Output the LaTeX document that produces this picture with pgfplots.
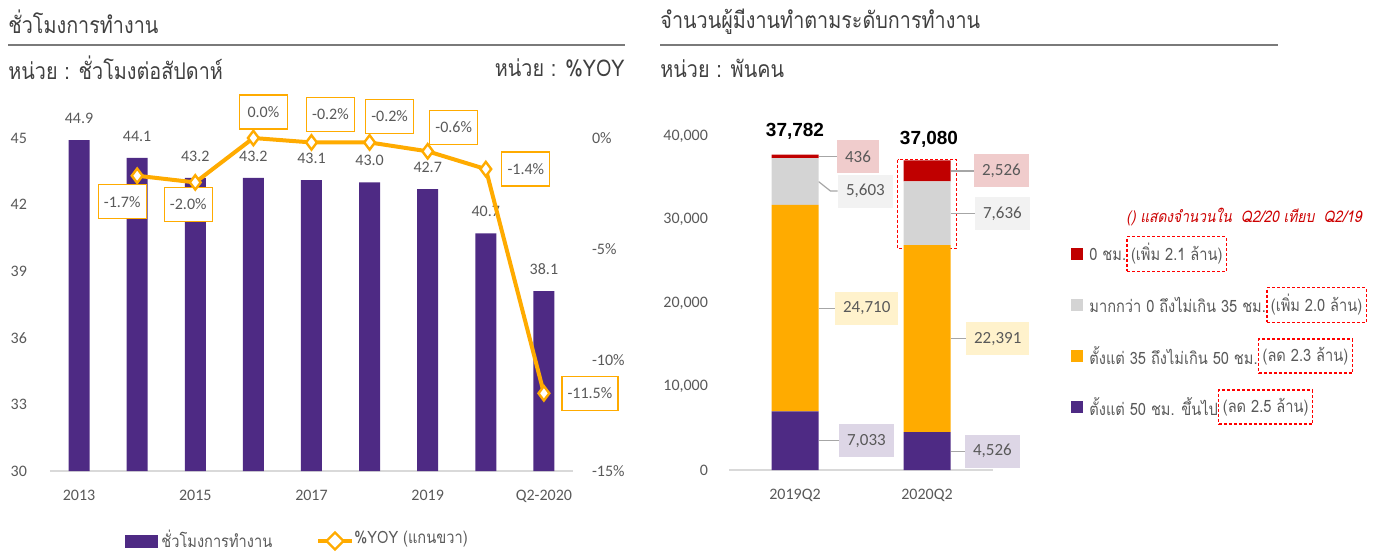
\documentclass[border=0pt]{standalone}
\usepackage{fontspec}
\setmainfont{Carlito}
\newfontfamily\thai{Loma}[Script=Thai,FakeStretch=0.86]
\newfontfamily\thaiit{Loma}[Script=Thai,FakeStretch=0.86,FakeSlant=0.2]
\newfontfamily\arial{Liberation Sans}
\usepackage{pgfplots}
\pgfplotsset{compat=1.18}
\usetikzlibrary{shapes.geometric}

\definecolor{Purp}{HTML}{4E2A84}
\definecolor{Orng}{HTML}{FFAB00}
\definecolor{Redd}{HTML}{C00000}
\definecolor{Gry}{HTML}{D4D4D4}
\definecolor{RedL}{HTML}{F0CCCC}
\definecolor{GryL}{HTML}{F2F2F2}
\definecolor{OrnL}{HTML}{FFF2CC}
\definecolor{PurL}{HTML}{DDD6E6}
\definecolor{TxtGray}{HTML}{595959}
\definecolor{TitleGray}{HTML}{404040}
\definecolor{AxGray}{HTML}{D9D9D9}
\definecolor{LeadGray}{HTML}{A6A6A6}
\definecolor{RedT}{HTML}{CC0000}

\tikzset{
  yoy/.style={draw=Orng, fill=white, line width=0.6pt, font=\fontsize{8}{9}\selectfont,
    text=TxtGray, minimum width=24pt, minimum height=17pt, inner sep=2pt},
  lbl/.style={anchor=west, font=\fontsize{8.5}{10}\selectfont, text=TxtGray, inner xsep=4pt,
    minimum height=16.5pt},
  lead/.style={LeadGray, line width=0.6pt},
  hd/.style={inner sep=0pt, text=TitleGray, font=\thai\fontsize{11.5}{13}\selectfont},
  lg/.style={inner sep=0pt, anchor=west, text=TxtGray, font=\thai\fontsize{8.5}{10}\selectfont},
  db/.style={anchor=west, draw=red, line width=0.6pt, dash pattern=on 1.5pt off 1pt,
    text=TxtGray, font=\thai\fontsize{8.5}{10}\selectfont, minimum height=17pt, inner xsep=2pt},
}

\begin{document}
\begin{tikzpicture}
\useasboundingbox (0,0) rectangle (687.5pt,276.5pt);

% ---- left: hours per week (bars)
\begin{axis}[
  at={(25pt,41pt)}, anchor=south west, scale only axis,
  width=261.5pt, height=166.5pt,
  xmin=-0.5, xmax=8.5, ymin=30, ymax=45,
  ybar, bar width=10.5pt,
  axis x line*=bottom, axis y line*=left,
  x axis line style={draw=AxGray, line width=1pt},
  y axis line style={draw=none},
  major tick length=0pt,
  xtick={0,2,4,6,8}, xticklabels={2013,2015,2017,2019,Q2-2020},
  ytick={30,33,...,45},
  tick label style={font=\fontsize{8}{9}\selectfont, text=TxtGray},
  yticklabel style={xshift=-8pt},
  xticklabel style={yshift=-6pt},
  /pgf/number format/assume math mode=true,
  nodes near coords={\pgfmathprintnumber[fixed,fixed zerofill,precision=1,assume math mode=true]{\pgfplotspointmeta}},
  every node near coord/.append style={font=\fontsize{8}{9}\selectfont, text=TxtGray, anchor=center, yshift=11pt},
]
\addplot[fill=Purp, draw=none] coordinates {
  (0,44.9) (1,44.1) (2,43.2) (3,43.2) (4,43.1) (5,43.0) (6,42.7) (7,40.7) (8,38.1)};
\end{axis}

% ---- left: %YOY (right axis)
\begin{axis}[
  at={(25pt,41pt)}, anchor=south west, scale only axis,
  width=261.5pt, height=166.5pt,
  xmin=-0.5, xmax=8.5, ymin=-15, ymax=0,
  axis x line=none, axis y line*=right,
  y axis line style={draw=none},
  major tick length=0pt,
  ytick={-15,-10,-5,0}, yticklabels={-15\%,-10\%,-5\%,0\%},
  tick label style={font=\fontsize{8}{9}\selectfont, text=TxtGray},
  yticklabel style={xshift=6pt},
  clip=false,
]
\addplot[Orng, line width=2pt, mark=diamond*, mark size=3.6pt,
  mark options={fill=white, draw=Orng, line width=1.2pt}] coordinates {
  (1,-1.7) (2,-2.0) (3,0.0) (4,-0.2) (5,-0.2) (6,-0.6) (7,-1.4) (8,-11.5)};
\node[yoy, xshift=-7.5pt, yshift=-13pt] at (axis cs:1,-1.7) {-1.7\%};
\node[yoy, xshift=-3.5pt, yshift=-11pt] at (axis cs:2,-2.0) {-2.0\%};
\node[yoy, xshift=5pt, yshift=13pt] at (axis cs:3,0.0) {0.0\%};
\node[yoy, xshift=9.5pt, yshift=14pt] at (axis cs:4,-0.2) {-0.2\%};
\node[yoy, xshift=10pt, yshift=13pt] at (axis cs:5,-0.2) {-0.2\%};
\node[yoy, xshift=13pt, yshift=12pt] at (axis cs:6,-0.6) {-0.6\%};
\node[yoy, xshift=20pt] at (axis cs:7,-1.4) {-1.4\%};
\node[yoy, xshift=23pt, minimum width=28pt] at (axis cs:8,-11.5) {-11.5\%};
\end{axis}

% ---- right: employed persons by hours worked
\begin{axis}[
  at={(364.5pt,41.5pt)}, anchor=south west, scale only axis,
  width=132pt, height=167pt,
  xmin=-0.5, xmax=1.5, ymin=0, ymax=40000,
  ybar stacked, bar width=23.5pt,
  axis x line*=bottom, axis y line*=left,
  x axis line style={draw=AxGray, line width=1pt},
  y axis line style={draw=none},
  major tick length=0pt,
  xtick={0,1}, xticklabels={2019Q2,2020Q2},
  ytick={0,10000,20000,30000,40000}, scaled y ticks=false,
  tick label style={font=\fontsize{8}{9}\selectfont, text=TxtGray},
  yticklabel style={/pgf/number format/1000 sep={,}, xshift=-7pt},
  xticklabel style={yshift=-6pt},
  /pgf/number format/assume math mode=true,
  clip=false,
]
\addplot[fill=Purp, draw=none] coordinates {(0,7033) (1,4526)};
\addplot[fill=Orng, draw=none] coordinates {(0,24710) (1,22391)};
\addplot[fill=Gry, draw=none] coordinates {(0,5603) (1,7636)};
\addplot[fill=Redd, draw=none] coordinates {(0,436) (1,2526)};

% data labels 2019Q2 (at segment middles)
\draw[lead] (axis cs:0,37564) ++(11.75pt,0pt) -- ++(9pt,0pt) node[lbl, fill=RedL] {436};
\draw[lead] (axis cs:0,34545) ++(11.75pt,0pt) -- ++(6pt,-4.75pt) -- ++(3.5pt,0pt) node[lbl, fill=GryL] {5,603};
\draw[lead] (axis cs:0,19388) ++(11.75pt,0pt) -- ++(8pt,0pt) node[lbl, fill=OrnL] {24,710};
\draw[lead] (axis cs:0,3517) ++(11.75pt,0pt) -- ++(10pt,0pt) node[lbl, fill=PurL] {7,033};
% data labels 2020Q2
\draw[lead] (axis cs:1,35817) ++(11.75pt,0pt) -- ++(11.5pt,0pt) node[lbl, fill=RedL] {2,526};
\draw[lead] (axis cs:1,30735) ++(11.75pt,0pt) -- ++(12pt,0pt) node[lbl, fill=GryL] {7,636};
\draw[lead] (axis cs:1,15721) ++(11.75pt,0pt) -- ++(7.5pt,0pt) node[lbl, fill=OrnL] {22,391};
\draw[lead] (axis cs:1,2263) ++(11.75pt,0pt) -- ++(7pt,0pt) node[lbl, fill=PurL] {4,526};
% totals
\node[font=\arial\bfseries\fontsize{9.5}{11}\selectfont, yshift=11.75pt] at (axis cs:0,37782) {37,782};
\node[font=\arial\bfseries\fontsize{9.5}{11}\selectfont, yshift=10.5pt, xshift=1pt] at (axis cs:1,37080) {37,080};
\draw[red, line width=0.6pt, dash pattern=on 1.5pt off 1pt]
  ([xshift=-14.75pt,yshift=0.4pt]axis cs:1,37080) rectangle ([xshift=14.75pt,yshift=-1.5pt]axis cs:1,26917);
\end{axis}

% ---- titles, legends (coordinates in reference pixels)
\begin{scope}[x=0.5pt, y=-0.5pt, shift={(0,276.5pt)}]
  \node[hd, anchor=west] at (8,22) {ชั่วโมงการทำงาน};
  \draw[TxtGray!80, line width=0.6pt] (8,45) -- (625,45);
  \node[hd, anchor=west] at (8,68) {หน่วย : ชั่วโมงต่อสัปดาห์};
  \node[hd, anchor=east] at (625,68) {หน่วย : \%YOY};

  \node[hd, anchor=west] at (660,22) {จำนวนผู้มีงานทำตามระดับการทำงาน};
  \draw[TxtGray!80, line width=0.6pt] (660,45) -- (1278,45);
  \node[hd, anchor=west] at (660,68) {หน่วย : พันคน};

  % left legend
  \fill[Purp] (125,535) rectangle (158,548);
  \node[lg] at (161,539) {ชั่วโมงการทำงาน};
  \draw[Orng, line width=2pt] (318,541) -- (352,541);
  \node[diamond, draw=Orng, fill=white, line width=1.2pt, minimum size=9pt, inner sep=0pt] at (335,541) {};
  \node[lg] at (354,539) {\%YOY (แกนขวา)};

  % right legend
  \node[inner sep=0pt, anchor=east, text=RedT, font=\thaiit\fontsize{8}{10}\selectfont] at (1362,217)
    {() แสดงจำนวนใน~~Q2/20 เทียบ~~Q2/19};
  \fill[Redd] (1071,248) rectangle (1083,260);
  \node[lg] (l1) at (1089,254) {0 ชม.};
  \node[db] at (l1.east) {(เพิ่ม 2.1 ล้าน)};
  \fill[Gry] (1071,299) rectangle (1083,311);
  \node[lg] (l2) at (1089,305) {มากกว่า 0 ถึงไม่เกิน 35 ชม.};
  \node[db] at (l2.east) {(เพิ่ม 2.0 ล้าน)};
  \fill[Orng] (1071,350) rectangle (1083,362);
  \node[lg] (l3) at (1089,356) {ตั้งแต่ 35 ถึงไม่เกิน 50 ชม.};
  \node[db] at (l3.east) {(ลด 2.3 ล้าน)};
  \fill[Purp] (1071,401) rectangle (1083,413);
  \node[lg] (l4) at (1089,407) {ตั้งแต่ 50 ชม. ขึ้นไป};
  \node[db] at (l4.east) {(ลด 2.5 ล้าน)};
\end{scope}
\end{tikzpicture}
\end{document}
